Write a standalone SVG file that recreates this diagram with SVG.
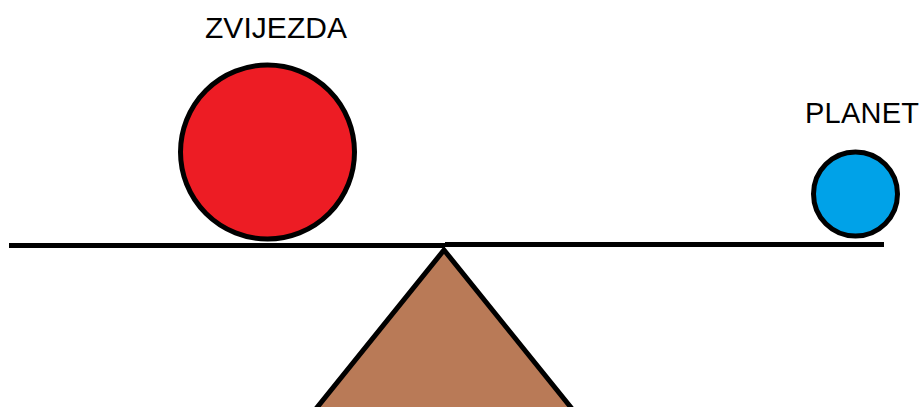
<svg xmlns="http://www.w3.org/2000/svg" width="923" height="407" viewBox="0 0 923 407">
<style>
.lbl{font-family:"Liberation Sans",Arial,sans-serif;fill:#000}
.ol{stroke:#000;stroke-width:5}
</style>
<rect width="923" height="407" fill="#fff"/>
<g id="fulcrum"><polygon class="ol" points="444,250 573,410 315,410" fill="#B97A57" stroke-linejoin="miter"/></g>
<g id="connectors">
<line x1="9" y1="245.5" x2="445" y2="245.5" stroke="#000" stroke-width="5"/>
<line x1="445" y1="244.5" x2="884" y2="244.5" stroke="#000" stroke-width="5"/>
</g>
<g id="zvijezda">
<circle class="ol" cx="267.5" cy="152" r="87" fill="#ED1C24"/>
<text class="lbl" x="205" y="38" font-size="30" textLength="142">ZVIJEZDA</text>
</g>
<g id="planet">
<circle class="ol" cx="855.5" cy="194" r="42" fill="#00A2E8"/>
<text class="lbl" x="805" y="123" font-size="29" textLength="114">PLANET</text>
</g>
</svg>
